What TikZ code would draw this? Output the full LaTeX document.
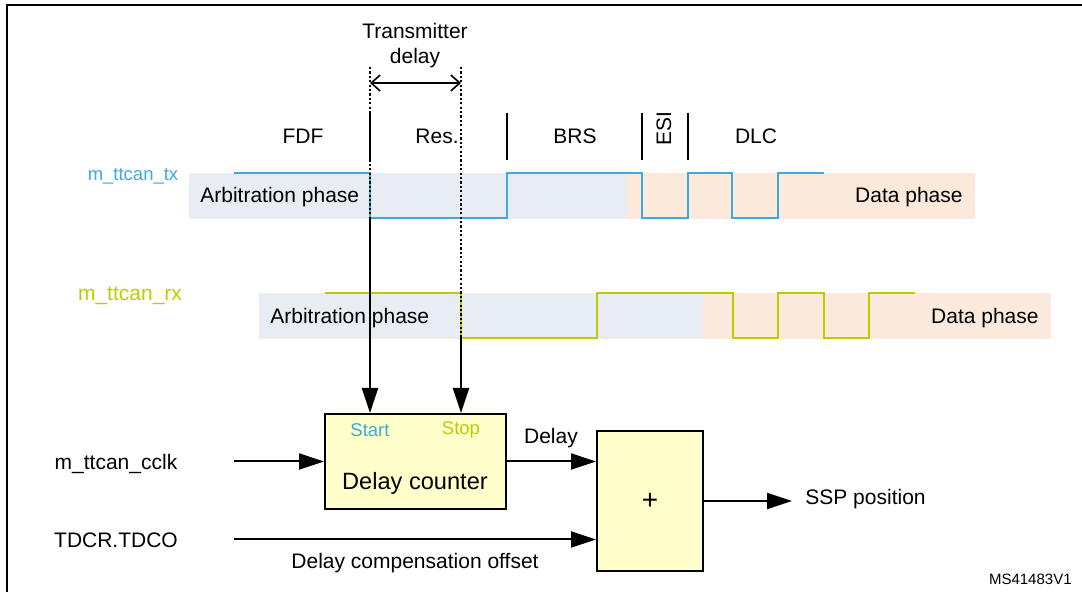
\documentclass[tikz,border=0pt]{standalone}
\usepackage{fontspec}
\setmainfont{Liberation Sans}
\usepackage{xcolor}
\usepackage{tikz}
\usetikzlibrary{arrows.meta,positioning,calc}

\definecolor{txblue}{RGB}{60,170,222}
\definecolor{rxgreen}{RGB}{188,204,0}
\definecolor{arbfill}{RGB}{232,237,244}
\definecolor{datafill}{RGB}{251,233,220}
\definecolor{blkfill}{RGB}{255,255,204}

\begin{document}
\begin{tikzpicture}[
	x=0.5pt, y=-0.5pt,
	lbl/.style={inner sep=0pt, font=\fontsize{10.5}{12.5}\selectfont},
	small/.style={inner sep=0pt, font=\fontsize{9.25}{11}\selectfont},
	blk/.style={rectangle, draw, line width=1pt, fill=blkfill, inner sep=0pt},
	sig/.style={line width=1pt},
	sep/.style={line width=1pt},
	dotline/.style={line width=1pt, dash pattern=on 1.1pt off 1.1pt},
	arr/.style={-{Triangle[length=12.5pt,width=8pt]}, line width=1pt},
	darr/.style={{Straight Barb[length=4.5pt,width=8pt]}-{Straight Barb[length=4.5pt,width=8pt]}, line width=0.8pt}
]
\useasboundingbox (0,0) rectangle (1082,592);
\draw[line width=1.3pt] (7,592) |- (1082,5);

% phase bands
\fill[arbfill]  (189,173) rectangle (627,219);
\fill[datafill] (627,173) rectangle (975,219);
\fill[arbfill]  (259,293) rectangle (703,339);
\fill[datafill] (703,293) rectangle (1051,339);

\node[small, text=txblue] (tx) at (133,176) {m\_ttcan\_tx};
\node[lbl, text=rxgreen] (rx) at (130,296) {m\_ttcan\_rx};
\node[lbl, anchor=west] (txarb) at (200,197) {Arbitration phase};
\node[lbl, anchor=east] (txdata) at (963,197) {Data phase};
\node[lbl, anchor=west] (rxarb) at (270,318) {Arbitration phase};
\node[lbl, anchor=east] (rxdata) at (1039,318) {Data phase};

\node[lbl] (fdf) at (303,136) {FDF};
\node[lbl] (res) at (437,136) {Res.};
\node[lbl] (brs) at (575,136) {BRS};
\node[lbl, rotate=90] (esi) at (664,129) {ESI};
\node[lbl] (dlc) at (756,136) {DLC};
\foreach \xs in {370,507,642,688}
	\draw[sep] (\xs,113) -- (\xs,160);

\draw[sig, txblue] (234,173) -| (370,218) -| (507,173) -| (642,218) -| (688,173) -| (732,218) -| (778,173) -- (824,173);
\draw[sig, rxgreen] (325,293) -| (461,338) -| (597,293) -| (733,338) -| (778,293) -| (824,338) -| (869,293) -- (915,293);

\node[lbl, align=center] (tdl) at (415,46) {Transmitter\\delay};
\coordinate (ttop) at (370,67);
\coordinate (rtop) at (461,67);
\coordinate (txfall) at (370,218);
\coordinate (rxfall) at (461,338);
\draw[dotline] (ttop) -- (txfall);
\draw[dotline] (rtop) -- (rxfall);
\draw[darr] ($(ttop)+(0,16)$) -- ($(rtop)+(0,16)$);

\node[blk, minimum width=90.5pt, minimum height=47.5pt] (cnt) at (415.5,461.5) {};
\node[small, text=txblue] (start) at (370,430) {Start};
\node[small, text=rxgreen] (stop) at (461,430) {Stop};
\node[inner sep=0pt, font=\fontsize{11.8}{14}\selectfont] (cntlbl) at (415,483) {Delay counter};
\node[blk, minimum width=53pt, minimum height=70pt, font=\fontsize{14}{16}\selectfont] (add) at (650,501) {+};

\draw[arr] (txfall) -- (txfall |- cnt.north);
\draw[arr] (rxfall) -- (rxfall |- cnt.north);

\node[lbl] (clk) at (116,464) {m\_ttcan\_cclk};
\node[lbl] (tdco) at (116,540) {TDCR.TDCO};
\coordinate (clkin) at (234,461.5);
\coordinate (tdcoin) at (234,539.5);
\draw[arr] (clkin) -- (cnt.west);
\draw[arr] (cnt.east) -- (cnt.east -| add.west);
\node[lbl] (dly) at (551,438) {Delay};
\draw[arr] (tdcoin) -- (tdcoin -| add.west);
\node[lbl] (ofs) at (415,563) {Delay compensation offset};

\node[lbl, anchor=west] (ssp) at (805,499) {SSP position};
\draw[arr] (add.east) -- ([xshift=-6.5pt]ssp.west |- add.east);

\node[inner sep=0pt, font=\fontsize{7.5}{9}\selectfont, anchor=east] (ref) at (1072,579) {MS41483V1};
\end{tikzpicture}
\end{document}
